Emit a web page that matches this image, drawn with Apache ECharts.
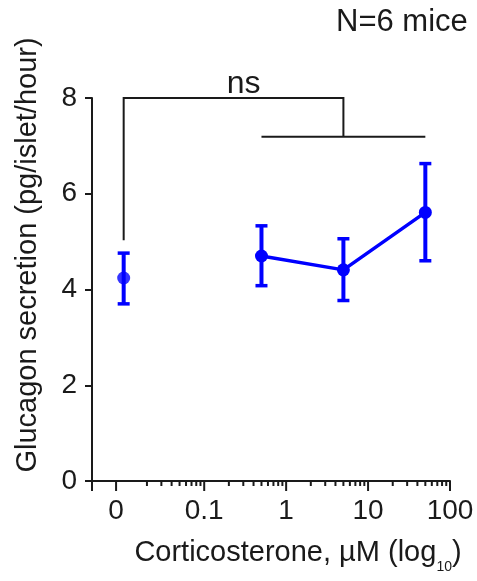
<!DOCTYPE html>
<html><head><meta charset="utf-8">
<script src="https://cdn.jsdelivr.net/npm/echarts@6/dist/echarts.min.js"></script>
<style>html,body{margin:0;padding:0;background:#fff}#c{width:477px;height:581px}</style>
</head><body><div id="c"></div>
<script>
const FONT = 'Liberation Sans';
const INK = '#1a1a1a';
const BLUE = '#0000ff';

// Control (0 µM), plotted left of the log decades
const controlDose = [0.0104];
const controlMean = [4.24];
const controlLow = [3.70];
const controlHigh = [4.76];

// Corticosterone doses (µM)
const doses = [0.5, 5, 50];
const glucagonMean = [4.70, 4.41, 5.61];
const glucagonLow = [4.08, 3.77, 4.60];
const glucagonHigh = [5.33, 5.06, 6.63];

// Axis ticks
const xAxisMin = 0.00427;
const xAxisMax = 100;
const xTickValues = [0.0084, 0.1, 1, 10, 100];
const xTickLabels = ['0', '0.1', '1', '10', '100'];
const xMinorTicks = [0.02, 0.03, 0.04, 0.05, 0.06, 0.07, 0.08, 0.09,
                     0.2, 0.3, 0.4, 0.5, 0.6, 0.7, 0.8, 0.9,
                     2, 3, 4, 5, 6, 7, 8, 9,
                     20, 30, 40, 50, 60, 70, 80, 90];
const yMin = 0, yMax = 8, yInterval = 2;

// Significance bracket levels (y values)
const bracketTop = 8;
const bracketLow = 7.19;
const bracketLegEnd = 5.03;
const bracketText = 'ns';

const chart = echarts.init(document.getElementById('c'), null, {renderer: 'canvas'});

function errRender(params, api) {
  const x = api.value(0);
  const lo = api.coord([x, api.value(1)]);
  const hi = api.coord([x, api.value(2)]);
  const cw = 6;
  return {type: 'group', children: [
    {type: 'line', shape: {x1: lo[0], y1: lo[1], x2: hi[0], y2: hi[1]}, style: {stroke: BLUE, lineWidth: 4}},
    {type: 'line', shape: {x1: lo[0] - cw, y1: lo[1], x2: lo[0] + cw, y2: lo[1]}, style: {stroke: BLUE, lineWidth: 3.5}},
    {type: 'line', shape: {x1: hi[0] - cw, y1: hi[1], x2: hi[0] + cw, y2: hi[1]}, style: {stroke: BLUE, lineWidth: 3.5}}
  ]};
}

const option = {
  animation: false,
  backgroundColor: '#fff',
  grid: {left: 92, right: 27, top: 98, bottom: 100},
  xAxis: {
    type: 'log', logBase: 10, min: xAxisMin, max: xAxisMax,
    axisLine: {show: true, onZero: false, lineStyle: {color: INK, width: 2}},
    axisTick: {show: false}, axisLabel: {show: false}, splitLine: {show: false}, minorTick: {show: false}
  },
  yAxis: {
    type: 'value', min: yMin, max: yMax, interval: yInterval,
    axisLine: {show: true, lineStyle: {color: INK, width: 2}},
    axisTick: {show: true, length: 7, lineStyle: {color: INK, width: 2}},
    axisLabel: {fontSize: 28, fontFamily: FONT, color: INK, margin: 15},
    splitLine: {show: false}
  },
  graphic: [
    {type: 'text', left: 336, top: 7, style: {text: 'N=6 mice', fontSize: 31, fontFamily: FONT, fill: INK}},
    {type: 'text', x: 28, y: 255, rotation: Math.PI / 2,
     style: {text: 'Glucagon secretion (pg/islet/hour)', fontSize: 29, fontFamily: FONT, fill: INK, align: 'center', verticalAlign: 'middle'}},
    {type: 'text', x: 298, y: 553,
     style: {text: '{a|Corticosterone, µM (log}{s|10}{a|)}', align: 'center', verticalAlign: 'middle', fill: INK,
       rich: {a: {fontSize: 29, fontFamily: FONT, fill: INK, lineHeight: 29, verticalAlign: 'top'},
              s: {fontSize: 14, fontFamily: FONT, fill: INK, lineHeight: 14, verticalAlign: 'top', padding: [22, 0, 0, 0]}}}}
  ],
  series: [
    {
      type: 'custom', silent: true, z: 3,
      data: xTickValues.map((v, i) => [v, 0, i]),
      renderItem: (params, api) => {
        const p = api.coord([api.value(0), yMin]);
        return {type: 'group', children: [
          {type: 'line', shape: {x1: p[0], y1: p[1], x2: p[0], y2: p[1] + 10}, style: {stroke: INK, lineWidth: 2}},
          {type: 'text', style: {text: xTickLabels[api.value(2)], x: p[0], y: p[1] + 16, align: 'center', verticalAlign: 'top',
            fontSize: 28, fontFamily: FONT, fill: INK}}
        ]};
      }
    },
    {
      type: 'custom', silent: true, z: 3,
      data: [[xAxisMin, 0]].concat(xMinorTicks.map(v => [v, 0])),
      renderItem: (params, api) => {
        const p = api.coord([api.value(0), yMin]);
        const len = params.dataIndex === 0 ? 10 : 5;
        return {type: 'line', shape: {x1: p[0], y1: p[1], x2: p[0], y2: p[1] + len}, style: {stroke: INK, lineWidth: 2}};
      }
    },
    {
      type: 'custom', silent: true, z: 3,
      data: [[controlDose[0], bracketTop]],
      renderItem: (params, api) => {
        const midDose = Math.sqrt(doses[0] * doses[doses.length - 1]);
        const a = api.coord([controlDose[0], bracketTop]);
        const aEnd = api.coord([controlDose[0], bracketLegEnd]);
        const m = api.coord([midDose, bracketTop]);
        const mLow = api.coord([midDose, bracketLow]);
        const l1 = api.coord([doses[0], bracketLow]);
        const l2 = api.coord([doses[doses.length - 1], bracketLow]);
        const st = {stroke: INK, lineWidth: 2, fill: null};
        return {type: 'group', children: [
          {type: 'polyline', shape: {points: [[aEnd[0], aEnd[1]], [a[0], a[1]], [m[0], m[1]], [mLow[0], mLow[1]]]}, style: st},
          {type: 'line', shape: {x1: l1[0], y1: l1[1], x2: l2[0], y2: l2[1]}, style: st},
          {type: 'text', style: {text: bracketText, x: (a[0] + m[0]) / 2 + 10, y: a[1] + 2, align: 'center', verticalAlign: 'bottom',
            fontSize: 32, fontFamily: FONT, fill: INK}}
        ]};
      }
    },
    {
      type: 'custom', silent: true, z: 4,
      data: controlDose.map((d, i) => [d, controlLow[i], controlHigh[i]]).concat(doses.map((d, i) => [d, glucagonLow[i], glucagonHigh[i]])),
      renderItem: errRender
    },
    {
      type: 'line', z: 5, data: doses.map((d, i) => [d, glucagonMean[i]]),
      symbol: 'circle', symbolSize: 13, color: BLUE,
      lineStyle: {color: BLUE, width: 3.5}, itemStyle: {color: BLUE}
    },
    {
      type: 'scatter', z: 5, data: controlDose.map((d, i) => [d, controlMean[i]]),
      symbol: 'circle', symbolSize: 13, itemStyle: {color: BLUE}
    }
  ]
};
chart.setOption(option);
</script></body></html>
